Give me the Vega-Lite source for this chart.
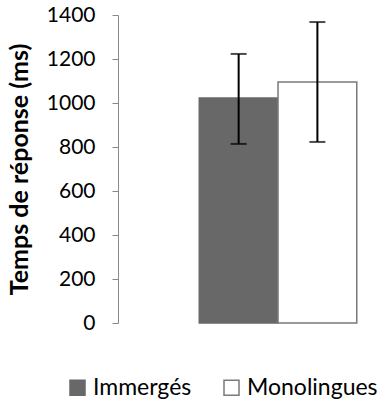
{
  "$schema": "https://vega.github.io/schema/vega-lite/v6.json",
  "width": 252,
  "height": 308,
  "autosize": "none",
  "padding": {"left": 118, "top": 15, "right": 12, "bottom": 80},
  "background": "white",
  "config": {"view": {"stroke": null}, "font": "Lato"},
  "data": {"values": [
    {"groupe": "Immergés", "temps": 1023, "bas": 814, "haut": 1223},
    {"groupe": "Monolingues", "temps": 1095, "bas": 823, "haut": 1368}
  ]},
  "encoding": {
    "x": {"field": "groupe", "type": "nominal", "sort": ["Immergés", "Monolingues"],
      "scale": {"paddingInner": 0, "paddingOuter": 0.6, "align": 0.86},
      "axis": null}
  },
  "layer": [
    {
      "mark": {"type": "bar", "strokeWidth": 1.5},
      "encoding": {
        "y": {"field": "temps", "type": "quantitative",
          "scale": {"domain": [0, 1400]},
          "axis": {"values": [0, 200, 400, 600, 800, 1000, 1200, 1400], "format": "d", "grid": false,
            "domainColor": "#888888", "tickColor": "#888888", "tickSize": 6,
            "labelFontSize": 21, "labelColor": "#000000", "labelPadding": 17, "labelFont": "Lato",
            "title": "Temps de réponse (ms)", "titleFontSize": 25, "titleFontWeight": "bold",
            "titleColor": "#000000", "titlePadding": 14, "titleFont": "Lato"}},
        "fill": {"field": "groupe", "type": "nominal",
          "scale": {"domain": ["Immergés", "Monolingues"], "range": ["#686868", "#ffffff"]},
          "legend": {"orient": "none", "legendX": -52, "legendY": 361, "direction": "horizontal",
            "title": null, "symbolType": "square", "symbolSize": 225, "symbolStrokeWidth": 1.5,
            "labelFontSize": 23, "labelColor": "#000000", "labelFont": "Lato", "columnPadding": 28, "labelOffset": 4, "symbolOpacity": 1, "labelLimit": 200}},
        "stroke": {"field": "groupe", "type": "nominal",
          "scale": {"domain": ["Immergés", "Monolingues"], "range": ["#686868", "#7a7a7a"]},
          "legend": null}
      }
    },
    {
      "mark": {"type": "rule", "color": "#000000", "strokeWidth": 2},
      "encoding": {
        "y": {"field": "bas", "type": "quantitative"},
        "y2": {"field": "haut"}
      }
    },
    {
      "mark": {"type": "tick", "color": "#000000", "thickness": 2, "size": 16, "orient": "horizontal"},
      "encoding": {"y": {"field": "bas", "type": "quantitative"}}
    },
    {
      "mark": {"type": "tick", "color": "#000000", "thickness": 2, "size": 16, "orient": "horizontal"},
      "encoding": {"y": {"field": "haut", "type": "quantitative"}}
    }
  ]
}
